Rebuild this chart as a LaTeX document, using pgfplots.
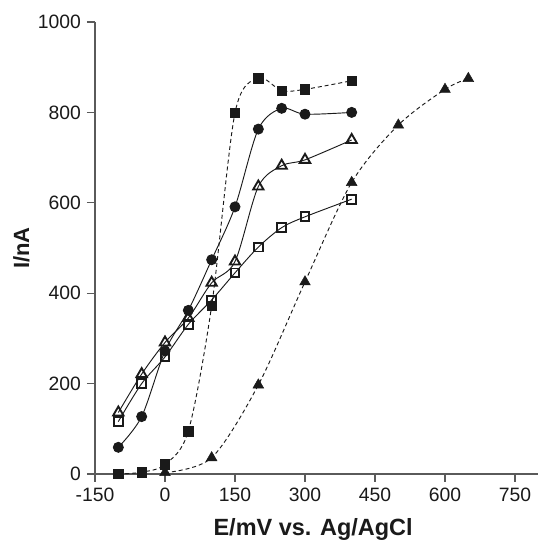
\documentclass[border=0pt]{standalone}
\usepackage{fontspec}
\setmainfont{Liberation Sans}
\usepackage{pgfplots}
\pgfplotsset{compat=1.18}
\usetikzlibrary{calc}

\definecolor{axisgray}{HTML}{5A5A5A}
\definecolor{ink}{HTML}{1A1A1A}

\begin{document}
\begin{tikzpicture}
\begin{axis}[
  name=ax,
  scale only axis,
  width=332.5pt, height=339pt,
  xmin=-150, xmax=800,
  ymin=0, ymax=1000,
  axis x line=bottom, axis y line=left,
  axis line style={-, axisgray, line width=0.9pt},
  tick style={axisgray, line width=0.9pt},
  tick align=outside,
  major tick length=6pt,
  xtick={-150,0,150,300,450,600,750},
  ytick={0,200,400,600,800,1000},
  /pgf/number format/assume math mode=true,
  /pgf/number format/set thousands separator={},
  ticklabel style={font=\fontsize{14.5}{16}\selectfont, text=ink},
  xticklabel style={yshift=-1pt},
  yticklabel style={xshift=-1pt},
  xlabel={E/mV vs. Ag/AgCl},
  ylabel={I/nA},
  xlabel style={font=\fontsize{17.6}{19}\bfseries, text=ink,
    at={(axis description cs:0.492,-0.137)}, anchor=base},
  ylabel style={font=\fontsize{16.5}{18}\bfseries, text=ink,
    at={(axis description cs:-0.166,0.5)}, anchor=center, rotate=0},
  clip=false,
  every axis plot/.append style={ink, smooth, tension=0.5},
]
% filled squares, dashed
\addplot[dashed, dash pattern=on 3pt off 2.2pt, line width=0.7pt,
  mark=square*, mark size=3.6pt, mark options={solid, fill=ink, line width=0.5pt}]
  coordinates {(-100,0) (-50,4) (0,21) (50,95) (100,372) (150,799) (200,876) (250,848) (300,851) (400,870)};
% filled circles, solid
\addplot[line width=0.7pt,
  mark=*, mark size=3.75pt, mark options={solid, fill=ink}]
  coordinates {(-100,59) (-50,127) (0,272) (50,362) (100,474) (150,591) (200,763) (250,809) (300,796) (400,800)};
% open triangles, solid
\addplot[line width=0.7pt,
  mark=triangle, mark size=4.5pt, mark options={solid, line width=1.4pt, fill=none}]
  coordinates {(-100,136) (-50,221) (0,291) (50,345) (100,423) (150,470) (200,636) (250,682) (300,695) (400,739)};
% open squares, solid
\addplot[line width=0.7pt,
  mark=square, mark size=3.3pt, mark options={solid, line width=1.4pt, fill=none}]
  coordinates {(-100,116) (-50,200) (0,259) (50,331) (100,385) (150,445) (200,502) (250,545) (300,569) (400,608)};
% filled triangles, dashed
\addplot[dashed, dash pattern=on 3pt off 2.2pt, line width=0.7pt,
  mark=triangle*, mark size=4.6pt, mark options={solid, fill=ink, line width=0.4pt}]
  coordinates {(0,3) (100,36) (200,197) (300,425) (400,645) (500,772) (600,851) (650,875)};
\end{axis}
\pgfresetboundingbox
\path[use as bounding box] ($(ax.south west)+(-71.25pt,-50.25pt)$) rectangle ($(ax.north east)+(0.5pt,16.5pt)$);
\end{tikzpicture}
\end{document}
